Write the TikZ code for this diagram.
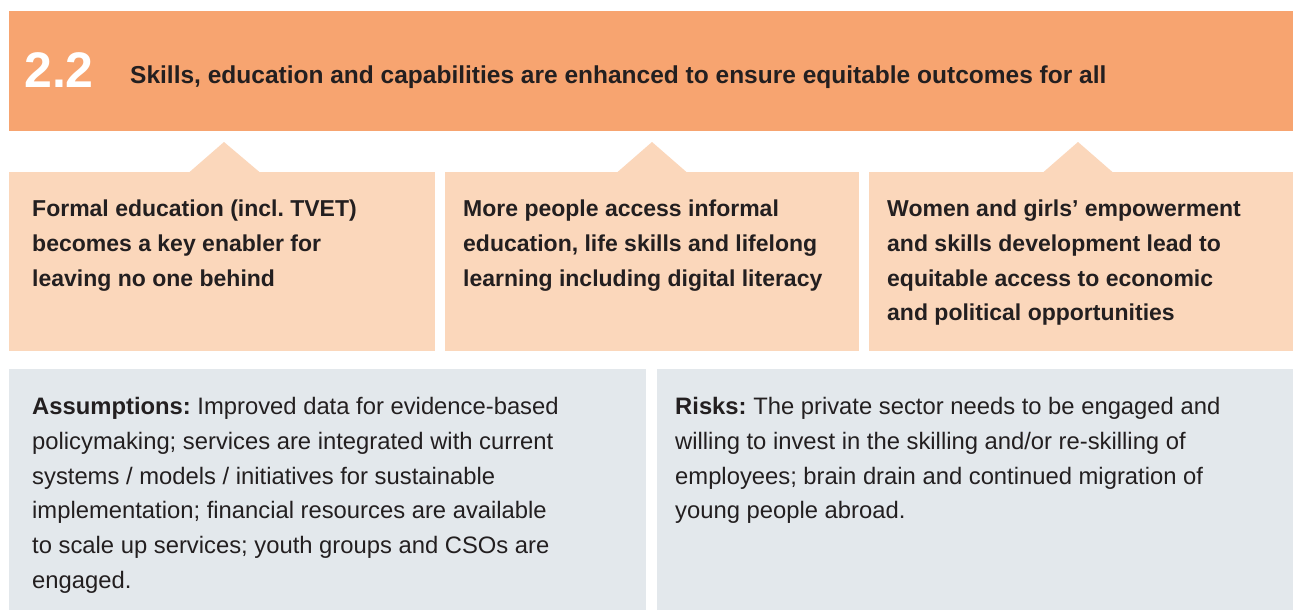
\documentclass[tikz,border=0pt]{standalone}
\usepackage{fontspec}
\setmainfont{Liberation Sans}
\frenchspacing
\definecolor{hdr}{HTML}{F7A470}
\definecolor{peach}{HTML}{FBD7BB}
\definecolor{greybg}{HTML}{E3E8EC}
\definecolor{ink}{HTML}{231F20}
\tikzset{
  panel/.style={anchor=north west, inner sep=0pt, outer sep=0pt, draw=none},
  outbox/.style={panel, fill=peach, minimum height=179pt},
  notebox/.style={panel, fill=greybg, minimum height=241pt},
  pointer/.style={fill=peach},
  outtext/.style={anchor=north west, inner sep=0pt, align=left, text=ink, font=\fontsize{23}{34.6}\selectfont\bfseries\frenchspacing},
  notetext/.style={anchor=north west, inner sep=0pt, align=left, text=ink, font=\fontsize{23.8}{34.8}\selectfont\frenchspacing},
}
\begin{document}
\begin{tikzpicture}[x=1pt,y=-1pt]
\useasboundingbox (0,0) rectangle (1293,610);
\fill[white] (0,0) rectangle (1293,610);
% header
\node (head) [panel, fill=hdr, minimum width=1284pt, minimum height=120pt] at (9,11) {};
\node (num) [anchor=base west, inner sep=0pt, text=white, font=\fontsize{50}{50}\selectfont\bfseries] at (24,88) {2.2};
\node (title) [anchor=base west, inner sep=0pt, text=ink, font=\fontsize{24.5}{28}\selectfont\bfseries] at (130,84) {Skills, education and capabilities are enhanced to ensure equitable outcomes for all};
% pointers
\fill[pointer] (189,172.5) -- (224,142) -- (260,172.5) -- cycle;
\fill[pointer] (617,172.5) -- (652,142) -- (687,172.5) -- cycle;
\fill[pointer] (1043,172.5) -- (1078,142) -- (1113,172.5) -- cycle;
% output boxes
\node (o1) [outbox, minimum width=426pt] at (9,172) {};
\node (o2) [outbox, minimum width=414pt] at (445,172) {};
\node (o3) [outbox, minimum width=424pt] at (869,172) {};
\node (t1) [outtext] at (32,200) {Formal education (incl. TVET)\\becomes a key enabler for\\leaving no one behind};
\node (t2) [outtext] at (463,200) {More people access informal\\education, life skills and lifelong\\learning including digital literacy};
\node (t3) [outtext] at (887,200) {Women and girls’ empowerment\\and skills development lead to\\equitable access to economic\\and political opportunities};
% notes
\node (n1) [notebox, minimum width=637pt] at (9,369) {};
\node (n2) [notebox, minimum width=636pt] at (657,369) {};
\node (a1) [notetext] at (32,397) {\textbf{Assumptions:} Improved data for evidence-based\\policymaking; services are integrated with current\\systems / models / initiatives for sustainable\\implementation; financial resources are available\\to scale up services; youth groups and CSOs are\\engaged.};
\node (r1) [notetext] at (675,397) {\textbf{Risks:} The private sector needs to be engaged and\\willing to invest in the skilling and/or re-skilling of\\employees; brain drain and continued migration of\\young people abroad.};
\end{tikzpicture}
\end{document}
